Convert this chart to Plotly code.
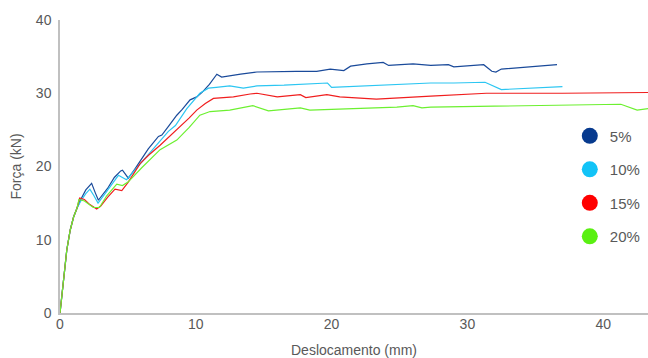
import plotly.graph_objects as go

series_names = ["5%", "10%", "15%", "20%"]
line_colors = ["#1a4a9a", "#2cc6f2", "#f01e1e", "#6cf030"]
marker_colors = ["#073a8e", "#12c3f7", "#ff0000", "#5af012"]

x_5 = [0, 0.25, 0.5, 0.75, 1.0, 1.25, 1.5, 1.9, 2.33, 2.6, 2.83, 2.95, 3.5, 4.0, 4.47, 4.6, 5.03,
       5.5, 6.0, 6.5, 7.25, 7.5, 8.0, 8.6, 9.0, 9.58, 10.07, 10.5, 11.0, 11.55, 11.9, 12.5, 13.3,
       14.5, 16.0, 17.4, 18.9, 19.9, 20.9, 21.4, 22.6, 23.8, 24.2, 26.0, 27.3, 28.6, 29.0, 31.2,
       31.8, 32.1, 32.5, 34.5, 36.6]
y_5 = [0, 4.5, 8.6, 11.3, 13.1, 14.3, 15.4, 16.8, 17.7, 16.4, 15.4, 15.7, 17.0, 18.5, 19.4, 19.5, 18.4,
       19.6, 21.0, 22.4, 24.1, 24.3, 25.5, 27.0, 27.8, 29.1, 29.5, 30.2, 31.2, 32.6, 32.2, 32.4, 32.6,
       32.9, 33.0, 33.0, 33.0, 33.3, 33.1, 33.7, 34.0, 34.2, 33.8, 34.0, 33.8, 33.9, 33.6, 33.9,
       33.0, 32.9, 33.3, 33.6, 33.9]

x_10 = [0, 0.25, 0.5, 0.75, 1.0, 1.25, 1.5, 1.9, 2.2, 2.5, 2.8, 3.2, 3.7, 4.3, 4.9, 5.5, 6.2, 7.0,
        7.98, 8.5, 9.34, 10.3, 10.93, 11.5, 12.5, 13.5, 14.5, 16.5, 18.9, 19.7, 20.0, 22.4, 24.5,
        27.3, 29.0, 31.3, 32.5, 35.0, 37.0]
y_10 = [0, 4.5, 8.6, 11.3, 13.1, 14.3, 15.2, 16.3, 16.9, 16.0, 15.0, 16.0, 17.3, 18.8, 18.2, 19.5, 21.0, 22.8,
        24.8, 25.6, 27.9, 30.0, 30.7, 30.8, 31.0, 30.7, 31.0, 31.1, 31.4, 31.4, 30.8, 31.0, 31.2,
        31.4, 31.4, 31.5, 30.5, 30.7, 30.9]

x_15 = [0, 0.25, 0.5, 0.75, 1.0, 1.25, 1.45, 1.8, 2.2, 2.7, 3.0, 3.5, 4.05, 4.55, 5.0, 5.9, 6.5, 7.37,
        8.0, 8.84, 9.5, 10.07, 10.7, 11.3, 12.0, 12.77, 14.0, 14.5, 16.0, 17.7, 18.1, 19.65, 20.6,
        23.3, 27.3, 31.4, 37.0, 43.3]
y_15 = [0, 4.5, 8.6, 11.3, 13.1, 14.3, 15.7, 15.5, 14.8, 14.2, 14.6, 15.8, 16.9, 16.7, 17.8, 20.4, 21.5, 22.9,
        24.0, 25.4, 26.6, 27.7, 28.6, 29.3, 29.4, 29.5, 29.9, 30.0, 29.5, 29.8, 29.4, 29.8, 29.5,
        29.2, 29.6, 30.0, 30.0, 30.1]

x_20 = [0, 0.25, 0.5, 0.75, 1.0, 1.25, 1.4, 1.8, 2.45, 2.9, 3.44, 4.18, 4.6, 5.03, 6.0, 7.37, 8.6, 9.5,
        10.3, 11.05, 12.3, 12.5, 14.2, 15.35, 17.7, 18.4, 24.8, 26.0, 26.65, 27.3, 41.3, 42.5, 43.3]
y_20 = [0, 4.5, 8.6, 11.3, 13.1, 14.3, 15.5, 15.3, 14.4, 14.4, 16.0, 17.6, 17.4, 17.9, 19.8, 22.3, 23.6, 25.3,
        27.0, 27.5, 27.7, 27.7, 28.3, 27.6, 28.0, 27.7, 28.1, 28.3, 28.0, 28.1, 28.5, 27.7, 27.9]

x_ticks = [0, 10, 20, 30, 40]
y_ticks = [0, 10, 20, 30, 40]

xs = [x_5, x_10, x_15, x_20]
ys = [y_5, y_10, y_15, y_20]

fig = go.Figure()
for name, x, y, lc in zip(series_names, xs, ys, line_colors):
    fig.add_trace(go.Scatter(x=x, y=y, mode="lines", name=name, showlegend=False,
                             line=dict(color=lc, width=1.2)))
for i, (name, mc) in enumerate(zip(series_names, marker_colors)):
    fig.add_trace(go.Scatter(x=[None], y=[None], mode="markers", name=name,
                             legendgroup="g%d" % i,
                             marker=dict(color=mc, size=18, symbol="circle")))

txt = "#595959"
fig.update_layout(
    width=648, height=358,
    margin=dict(l=60, r=0, t=20, b=45, autoexpand=False),
    paper_bgcolor="white", plot_bgcolor="white",
    font=dict(family="Liberation Sans, Arial, sans-serif", size=14, color=txt),
    legend=dict(x=0.867, y=0.66, xanchor="left", yanchor="top",
                bgcolor="rgba(0,0,0,0)", font=dict(size=15, color=txt),
                tracegroupgap=11, itemsizing="trace", itemwidth=30),
    xaxis=dict(range=[0, 43.3], tickvals=x_ticks, showgrid=False, zeroline=False,
               showline=True, linecolor="#c0c0c0", linewidth=1.5, ticks="",
               ticklabelstandoff=-3, automargin=False,
               title=dict(text="Deslocamento (mm)", font=dict(size=14, color=txt), standoff=16)),
    yaxis=dict(range=[0, 40], tickvals=y_ticks, showgrid=False, zeroline=False,
               showline=True, linecolor="#c0c0c0", linewidth=1.5, ticks="",
               ticklabelstandoff=4, automargin=False,
               title=dict(text="Força (kN)", font=dict(size=14, color=txt), standoff=11)),
)
fig.write_html("out.html", config={"displayModeBar": False},
               post_script="document.body.style.margin='0';document.body.style.overflow='hidden';")
